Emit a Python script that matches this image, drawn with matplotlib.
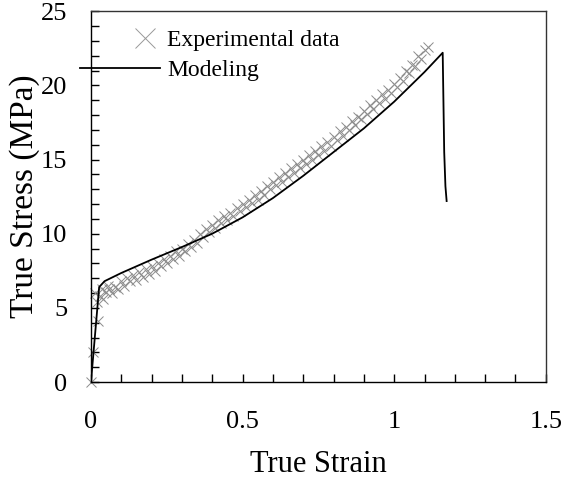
import numpy as np
import matplotlib.pyplot as plt
from matplotlib.lines import Line2D
from matplotlib.ticker import MultipleLocator

plt.rcParams['font.family'] = ['Liberation Serif', 'DejaVu Serif']

# 实验数据 (真应变, 真应力 MPa)
exp_strain = [0, 0.008, 0.024, 0.013, 0.02, 0.03, 0.035, 0.04, 0.05, 0.055,
              0.06, 0.07, 0.08, 0.09, 0.10, 0.11, 0.12, 0.13, 0.14, 0.15,
              0.16, 0.17, 0.18, 0.19, 0.20, 0.21, 0.22, 0.23, 0.24, 0.25,
              0.26, 0.27, 0.28, 0.29, 0.30, 0.31, 0.32, 0.33, 0.34, 0.35,
              0.36, 0.37, 0.38, 0.39, 0.40, 0.41, 0.42, 0.43, 0.44, 0.45,
              0.46, 0.47, 0.48, 0.49, 0.50, 0.51, 0.52, 0.53, 0.54, 0.55,
              0.56, 0.57, 0.58, 0.59, 0.60, 0.61, 0.62, 0.63, 0.64, 0.65,
              0.66, 0.67, 0.68, 0.69, 0.70, 0.71, 0.72, 0.73, 0.74, 0.75,
              0.76, 0.77, 0.78, 0.79, 0.80, 0.81, 0.82, 0.83, 0.84, 0.85,
              0.86, 0.87, 0.88, 0.89, 0.90, 0.91, 0.92, 0.93, 0.94, 0.95,
              0.96, 0.97, 0.98, 0.99, 1.00, 1.01, 1.02, 1.03, 1.04, 1.05,
              1.06, 1.07, 1.08, 1.09, 1.10, 1.11]
exp_stress = [0, 2.0, 4.1, 6.0, 5.4, 5.8, 6.3, 5.6, 6.1, 6.5,
              6.3, 6.0, 6.4, 6.3, 6.8, 6.5, 7.0, 6.8, 7.2, 6.9,
              7.4, 7.1, 7.6, 7.3, 7.8, 7.5, 8.0, 7.8, 8.3, 8.0,
              8.5, 8.3, 8.8, 8.5, 9.0, 8.8, 9.3, 9.1, 9.6, 9.4,
              10.0, 9.8, 10.3, 10.1, 10.6, 10.4, 10.9, 10.7, 11.2, 10.9,
              11.4, 11.2, 11.7, 11.5, 12.0, 11.8, 12.3, 12.1, 12.6, 12.3,
              12.9, 12.6, 13.2, 13.0, 13.5, 13.3, 13.8, 13.5, 14.1, 13.8,
              14.4, 14.1, 14.7, 14.4, 15.0, 14.7, 15.3, 15.0, 15.6, 15.3,
              15.9, 15.6, 16.2, 15.9, 16.5, 16.3, 16.9, 16.6, 17.2, 17.0,
              17.6, 17.3, 17.9, 17.7, 18.3, 18.1, 18.7, 18.4, 19.0, 18.8,
              19.4, 19.1, 19.7, 19.5, 20.1, 19.9, 20.5, 20.3, 21.0, 20.8,
              21.4, 21.3, 22.0, 21.8, 22.4, 22.6]

# 模型曲线
model_strain = [0, 0.027, 0.045, 0.1, 0.2, 0.3, 0.4, 0.5, 0.6, 0.7, 0.8, 0.9,
                1.0, 1.1, 1.16, 1.162, 1.165, 1.169, 1.173]
model_stress = [0, 6.4, 6.8, 7.35, 8.25, 9.1, 10.0, 11.1, 12.4, 13.9, 15.5, 17.1,
                18.9, 20.9, 22.2, 19.5, 15.5, 13.2, 12.2]

fig = plt.figure(figsize=(5.65, 4.87), dpi=100)
ax = fig.add_axes([0.161, 0.2156, 0.805, 0.7614])

ax.plot(exp_strain, exp_stress, linestyle='none', marker='x', markersize=7.5,
        markeredgewidth=0.7, color='#8c8c8c', clip_on=False, zorder=2)
ax.plot(model_strain, model_stress, color='black', lw=1.3, zorder=3)

ax.set_xlim(0, 1.5)
ax.set_ylim(0, 25)
ax.xaxis.set_major_locator(MultipleLocator(0.5))
ax.xaxis.set_minor_locator(MultipleLocator(0.1))
ax.yaxis.set_major_locator(MultipleLocator(5))
ax.yaxis.set_minor_locator(MultipleLocator(1))
ax.xaxis.set_major_formatter(plt.FuncFormatter(lambda v, p: f'{v:g}'))
ax.tick_params(which='both', direction='in', length=6, width=1, color='black',
               top=False, right=False)
ax.tick_params(axis='x', which='major', labelsize=19, pad=21)
ax.tick_params(axis='y', which='major', labelsize=19, pad=17)
for s in ax.spines.values():
    s.set_linewidth(1.0)
    s.set_color('#333333')
ax.spines['left'].set_color('black')
ax.spines['bottom'].set_color('black')

ax.set_xlabel('True Strain', fontsize=22, labelpad=12)
ax.set_ylabel('True Stress (MPa)', fontsize=24, labelpad=0.5)

# 图例：分开放置两个
fs = 17
h1 = Line2D([], [], linestyle='none', marker='x', markersize=14,
            markeredgewidth=0.7, color='#999999')
h2 = Line2D([], [], color='black', lw=1.3)
leg1 = fig.legend([h1], ['Experimental data'], loc='center left',
                  bbox_to_anchor=(130 / 565, 1 - 40 / 487), frameon=False,
                  fontsize=fs, handlelength=1.27, handletextpad=0.3,
                  borderpad=0, borderaxespad=0)
leg2 = fig.legend([h2], ['Modeling'], loc='center left',
                  bbox_to_anchor=(80 / 565, 1 - 70 / 487), frameon=False,
                  fontsize=fs, handlelength=3.39, handletextpad=0.3,
                  borderpad=0, borderaxespad=0)

fig.savefig('out.png', dpi=100)
